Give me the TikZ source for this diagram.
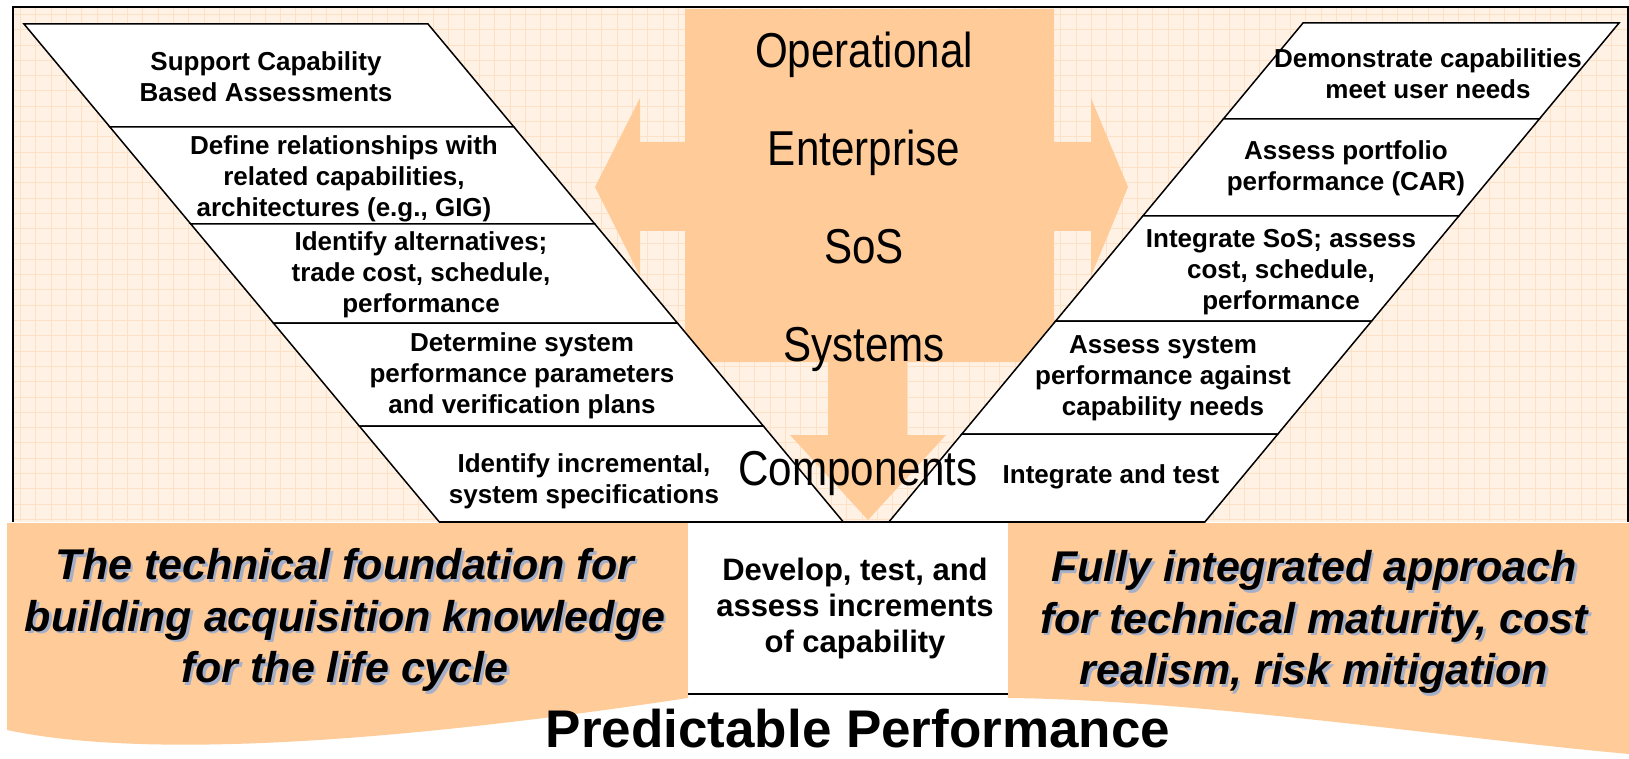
\documentclass[tikz,border=0pt]{standalone}
\usepackage{fontspec}
\setmainfont{Liberation Sans}
\newfontfamily\narrowsans[FakeStretch=0.86]{Liberation Sans}

\definecolor{sheet}{RGB}{255,242,229}
\definecolor{gridtone}{RGB}{252,225,198}
\definecolor{peach}{RGB}{255,204,153}
\definecolor{embossed}{RGB}{165,175,200}

\tikzset{
  rowbox/.style={draw=black, line width=1.5pt, fill=white, line join=miter},
  rowtext/.style={font=\fontsize{26}{31}\selectfont\bfseries, align=center, inner sep=0pt},
  levelword/.style={font=\narrowsans\fontsize{49}{58}\selectfont, inner sep=0pt, anchor=base},
  notetext/.style={font=\fontsize{43}{51.5}\selectfont\bfseries\itshape, align=center, inner sep=0pt},
  gridline/.style={draw=gridtone, line width=0.6pt},
}

\begin{document}
\begin{tikzpicture}[x=1pt, y=-1pt]
	\useasboundingbox (0,0) rectangle (1629,759);
	
	% sheet with its faint grid
	\fill[sheet] (12.7,6.7) rectangle (1628,522);
	\foreach \gx in {20.3,35.6,...,1627}
		\draw[gridline] (\gx,7.7) -- (\gx,521);
	\foreach \gy in {14.3,29.6,...,521}
		\draw[gridline] (13.7,\gy) -- (1627,\gy);
	\draw[line width=2pt] (12.7,522) -- (12.7,6.7) -- (1628,6.7) -- (1628,522);
	
	% level arrow: left, right and down
	\fill[peach] (685,9) -- (1054,9) -- (1054,142) -- (1091,142) -- (1091,98)
		-- (1128,187) -- (1091,276) -- (1091,231) -- (1054,231) -- (1054,362)
		-- (907,362) -- (907,435) -- (946,435) -- (868,520) -- (790,435)
		-- (828,435) -- (828,362) -- (685,362) -- (685,231) -- (640,231)
		-- (640,276) -- (595,187) -- (640,98) -- (640,142) -- (685,142) -- cycle;
	
	% left arm of the V
	\foreach \ya/\yb in {24/127,127/224,224/323,323/426,426/522}
		\filldraw[rowbox] ({24+0.834*(\ya-24)},\ya) -- ({428+0.834*(\ya-24)},\ya)
			-- ({428+0.834*(\yb-24)},\yb) -- ({24+0.834*(\yb-24)},\yb) -- cycle;
	
	% right arm of the V
	\foreach \ya/\yb in {23/119,119/216,216/321,321/434,434/522}
		\filldraw[rowbox] ({1303-0.83*(\ya-23)},\ya) -- ({1619-0.83*(\ya-23)},\ya)
			-- ({1619-0.83*(\yb-23)},\yb) -- ({1303-0.83*(\yb-23)},\yb) -- cycle;
	
	\node[rowtext] (def1) at (266,77) {Support Capability\\Based Assessments};
	\node[rowtext] (def2) at (344,179) {Define relationships with\\related capabilities,\\architectures (e.g., GIG)};
	\node[rowtext] (def3) at (421,275) {Identify alternatives;\\trade cost, schedule,\\performance};
	\node[rowtext] (def4) at (522,376) {Determine system\\performance parameters\\and verification plans};
	\node[rowtext] (def5) at (584,481) {Identify incremental,\\system specifications};
	
	\node[rowtext] (int1) at (1428,74) {Demonstrate capabilities\\meet user needs};
	\node[rowtext] (int2) at (1346,168) {Assess portfolio\\performance (CAR)};
	\node[rowtext] (int3) at (1281,272) {Integrate SoS; assess\\cost, schedule,\\performance};
	\node[rowtext] (int4) at (1163,378) {Assess system\\performance against\\capability needs};
	\node[rowtext, anchor=base] (int5) at (1111,483) {Integrate and test};
	
	% levels down the middle
	\node[levelword] (lvl1) at (864,68) {Operational};
	\node[levelword] (lvl2) at (864,166) {Enterprise};
	\node[levelword] (lvl3) at (864,263) {SoS};
	\node[levelword] (lvl4) at (864,361) {Systems};
	\node[levelword] (lvl5) at (858,485) {Components};
	
	% bottom banners
	\fill[peach] (7,523) -- (688,523) -- (688,698)
		.. controls (330,752) and (120,754) .. (7,730) -- cycle;
	\fill[peach] (1008,523) -- (1629,523) -- (1629,754)
		.. controls (1450,738) and (1200,700) .. (1008,698) -- cycle;
	\fill[white] (688,523) rectangle (1008,694);
	\draw[line width=2pt] (688,694) -- (1008,694);
	\draw[line width=1.6pt] (439.3,522) -- (1204.8,522);
	
	\node[rowtext, font=\fontsize{31}{36}\selectfont\bfseries] (incr) at (855,608)
		{Develop, test, and\\assess increments\\of capability};
	
	\node[notetext, text=embossed] at (347.5,622.5)
		{The technical foundation for\\building acquisition knowledge\\for the life cycle};
	\node[notetext] (found) at (345,620)
		{The technical foundation for\\building acquisition knowledge\\for the life cycle};
	\node[notetext, text=embossed] at (1316.5,624.5)
		{Fully integrated approach\\for technical maturity, cost\\realism, risk mitigation};
	\node[notetext] (approach) at (1314,622)
		{Fully integrated approach\\for technical maturity, cost\\realism, risk mitigation};
	
	\node[font=\fontsize{53}{60}\selectfont\bfseries, inner sep=0pt, anchor=base] (perf) at (858,747)
		{Predictable Performance};
\end{tikzpicture}
\end{document}
